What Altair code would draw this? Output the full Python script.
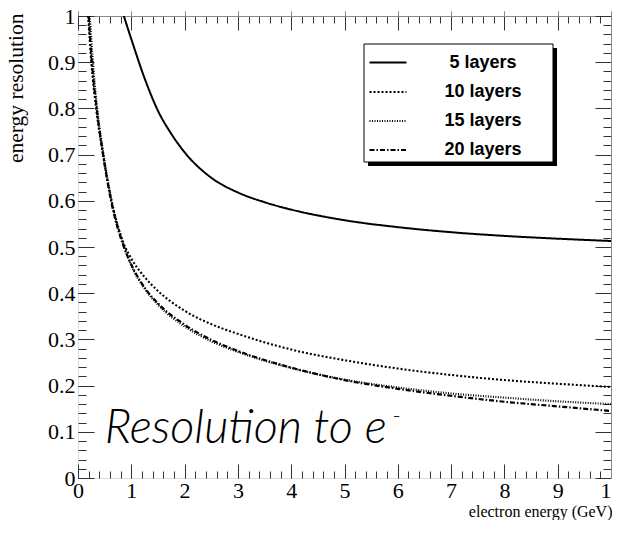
import altair as alt
import pandas as pd

series_names = ["5 layers", "10 layers", "15 layers", "20 layers"]

x5 = [0.86, 1.0, 1.25, 1.5, 1.75, 2.0, 2.5, 3.0, 3.5, 4.0, 5.0, 6.0, 7.0, 8.0, 9.0, 10.0]
y5 = [1.0, 0.95, 0.865, 0.795, 0.745, 0.705, 0.65, 0.618, 0.597, 0.581, 0.558, 0.543, 0.532, 0.524, 0.518, 0.513]

x10 = [0.19, 0.25, 0.34, 0.47, 0.63, 0.85, 1.0, 1.25, 1.5, 2.0, 2.5, 3.0, 4.0, 5.0, 6.0, 7.0, 8.0, 9.0, 10.0]
y10 = [1.0, 0.9, 0.8, 0.7, 0.6, 0.51, 0.475, 0.435, 0.405, 0.362, 0.333, 0.312, 0.278, 0.255, 0.237, 0.223, 0.212, 0.204, 0.197]

x15 = [0.22, 0.28, 0.36, 0.48, 0.63, 0.87, 1.0, 1.25, 1.5, 2.0, 2.5, 3.0, 4.0, 5.0, 6.0, 7.0, 8.0, 9.0, 10.0]
y15 = [1.0, 0.9, 0.8, 0.7, 0.6, 0.5, 0.46, 0.41, 0.375, 0.328, 0.296, 0.273, 0.238, 0.213, 0.196, 0.183, 0.174, 0.166, 0.160]

x20 = [0.20, 0.26, 0.35, 0.47, 0.62, 0.86, 1.0, 1.25, 1.5, 2.0, 2.5, 3.0, 4.0, 5.0, 6.0, 7.0, 8.0, 9.0, 10.0]
y20 = [1.0, 0.9, 0.8, 0.7, 0.6, 0.5, 0.462, 0.412, 0.378, 0.332, 0.299, 0.275, 0.239, 0.212, 0.193, 0.178, 0.165, 0.155, 0.145]

x_major = list(range(0, 11))
x_minor = [round(i * 0.2, 1) for i in range(0, 51)]
y_major = [round(i * 0.1, 1) for i in range(0, 11)]
y_minor = [round(i * 0.02, 2) for i in range(0, 51)]

rows = []
for name, xs, ys in zip(series_names, [x5, x10, x15, x20], [y5, y10, y15, y20]):
    for xv, yv in zip(xs, ys):
        rows.append({"series": name, "energy": xv, "res": yv})
df = pd.DataFrame(rows)

W, H = 533, 462
xscale = alt.Scale(domain=[0, 10], nice=False, zero=False)
yscale = alt.Scale(domain=[0, 1], nice=False, zero=False)
AX = "#333333"
SERIF = "Liberation Serif"

base = alt.Chart(df)

legend_opts = dict(title=None, orient="none", legendX=290, legendY=27,
                   padding=0, rowPadding=-9,
                   symbolType="stroke", symbolSize=1369,
                   symbolStrokeColor="black",
                   labelFont="Liberation Sans", labelFontWeight="bold",
                   labelFontSize=18, labelColor="black",
                   labelAlign="center", labelOffset=75)

lines = base.mark_line(interpolate="monotone", clip=True, color="black").encode(
    x=alt.X("energy:Q", scale=xscale,
            axis=alt.Axis(values=x_major, format="d", ticks=False, domain=False, grid=False,
                          labelFont=SERIF, labelFontSize=22, labelColor="black", labelPadding=2,
                          labelFlush=False,
                          title="electron energy (GeV)", titleFont=SERIF, titleFontSize=16,
                          titleFontWeight="normal", titleColor="black",
                          titleAnchor="end", titleAlign="right", titleBaseline="alphabetic",
                          titleX=534, titleY=38)),
    y=alt.Y("res:Q", scale=yscale,
            axis=alt.Axis(values=y_major, format=".1~f", ticks=False, domain=False, grid=False,
                          labelFont=SERIF, labelFontSize=22, labelColor="black", labelPadding=3,
                          labelFlush=False,
                          title="energy resolution", titleFont=SERIF, titleFontSize=21.5,
                          titleFontWeight="normal", titleColor="black",
                          titleAngle=-90, titleAlign="right", titleBaseline="alphabetic",
                          titleAnchor="end", titleX=-56, titleY=-3)),
    strokeDash=alt.StrokeDash("series:N", sort=series_names,
                              scale=alt.Scale(domain=series_names,
                                              range=[[1, 0], [2, 2], [1, 1.5], [5, 2, 1.5, 2]]),
                              legend=alt.Legend(**legend_opts)),
    strokeWidth=alt.StrokeWidth("series:N", sort=series_names,
                                scale=alt.Scale(domain=series_names, range=[2, 2.2, 1.2, 1.6]),
                                legend=alt.Legend(**legend_opts)),
)


def tick_layer(orient_x, orient_y, xvals, yvals, xlen, ylen):
    return base.mark_point(opacity=0).encode(
        x=alt.X("energy:Q", scale=xscale,
                axis=alt.Axis(orient=orient_x, values=xvals, labels=False, domain=False, grid=False,
                              ticks=True, tickSize=xlen, offset=-xlen, tickColor=AX, tickWidth=1,
                              title=None)),
        y=alt.Y("res:Q", scale=yscale,
                axis=alt.Axis(orient=orient_y, values=yvals, labels=False, domain=False, grid=False,
                              ticks=True, tickSize=ylen, offset=-ylen, tickColor=AX, tickWidth=1,
                              title=None)),
    )


t1 = tick_layer("bottom", "left", x_major, y_major, 14, 16)
t2 = tick_layer("bottom", "left", x_minor, y_minor, 7, 8)
t3 = tick_layer("top", "right", x_major, y_major, 14, 16)
t4 = tick_layer("top", "right", x_minor, y_minor, 7, 8)

one = pd.DataFrame({"k": [0]})
shadow = alt.Chart(one).mark_rect(color="black").encode(
    x=alt.value(290), x2=alt.value(479), y=alt.value(32), y2=alt.value(150)
)
box = alt.Chart(one).mark_rect(fill="white", stroke="black", strokeWidth=1).encode(
    x=alt.value(286), x2=alt.value(475), y=alt.value(28), y2=alt.value(146)
)

annot = alt.Chart(one).mark_text(
    text="Resolution to e", font="Lato", fontStyle="italic", fontWeight=300, fontSize=47,
    align="left", baseline="alphabetic", color="black"
).encode(x=alt.datum(0.5), y=alt.datum(0.076))

annot_sup = alt.Chart(one).mark_text(
    text="-", font="Lato", fontWeight=300, fontSize=22, align="left", baseline="alphabetic",
    color="black"
).encode(x=alt.datum(5.9), y=alt.datum(0.118))

chart = alt.layer(shadow, box, lines, t1, t2, t3, t4, annot, annot_sup).resolve_axis(
    x="independent", y="independent"
).properties(
    width=W, height=H,
    autosize=alt.AutoSizeParams(type="none"),
    padding={"left": 70, "top": 8, "right": 1, "bottom": 42},
).configure_view(stroke=AX, strokeWidth=1).configure(background="white")

chart.save("out.html", embed_options={"renderer": "svg", "actions": False})
